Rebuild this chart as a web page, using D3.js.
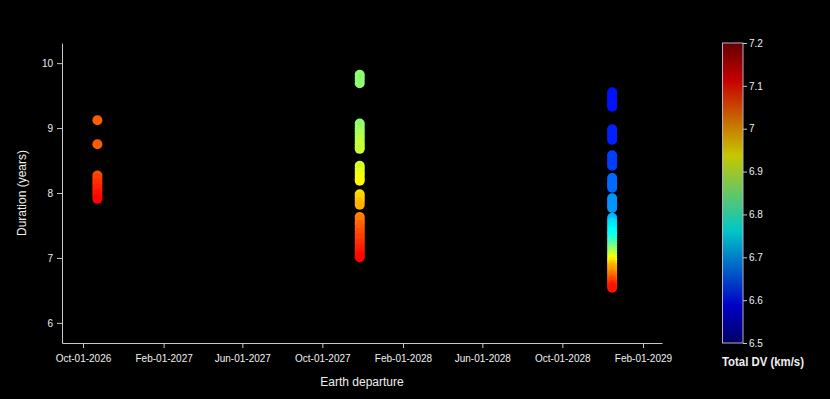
<!DOCTYPE html>
<html>
<head>
<meta charset="utf-8">
<script src="https://cdn.jsdelivr.net/npm/d3@7"></script>
<style>
  html, body { margin: 0; padding: 0; background: #000; }
  svg { display: block; font-family: "Liberation Sans", Arial, sans-serif; }
</style>
</head>
<body>
<svg id="chart" width="830" height="399"></svg>
<script>
// ---- Data ----
const departures = ["2026-10-23", "2027-11-27", "2028-12-16"];

const durations2026 = [9.12, 8.75, 8.27, 8.23, 8.19, 8.15, 8.11, 8.07, 8.03, 7.99, 7.95, 7.91];
const dv2026        = [7.05, 7.05, 7.06, 7.07, 7.07, 7.08, 7.08, 7.09, 7.09, 7.10, 7.10, 7.11];

const durations2027 = [9.82, 9.78, 9.74, 9.69,
  9.07, 9.03, 8.99, 8.95, 8.91, 8.87, 8.83, 8.79, 8.75, 8.71, 8.68,
  8.42, 8.38, 8.34, 8.30, 8.26, 8.22, 8.19,
  7.98, 7.94, 7.90, 7.86, 7.82,
  7.63, 7.59, 7.55, 7.51, 7.47, 7.43, 7.39, 7.35, 7.31, 7.27, 7.23, 7.19, 7.15, 7.11, 7.07, 7.03, 7.01];
const dv2027 = [6.86, 6.86, 6.86, 6.86,
  6.86, 6.86, 6.87, 6.87, 6.88, 6.88, 6.89, 6.89, 6.90, 6.90, 6.90,
  6.91, 6.91, 6.92, 6.92, 6.93, 6.93, 6.94,
  6.96, 6.97, 6.97, 6.98, 6.99,
  7.02, 7.03, 7.03, 7.04, 7.05, 7.05, 7.06, 7.06, 7.07, 7.07, 7.08, 7.08, 7.09, 7.09, 7.10, 7.10, 7.11];

const durations2028 = [9.55, 9.51, 9.47, 9.43, 9.39, 9.35, 9.33,
  8.98, 8.94, 8.90, 8.86, 8.82,
  8.58, 8.54, 8.50, 8.46, 8.42,
  8.23, 8.19, 8.15, 8.11, 8.08,
  7.92, 7.88, 7.84, 7.80, 7.77,
  7.62, 7.58, 7.54, 7.50, 7.46, 7.42, 7.38, 7.34, 7.30, 7.26, 7.22, 7.18, 7.14, 7.10,
  7.06, 7.02, 6.98, 6.94, 6.90, 6.86, 6.82, 6.78, 6.74, 6.70, 6.66, 6.62, 6.58, 6.54];
const dv2028 = [6.60, 6.60, 6.60, 6.60, 6.60, 6.60, 6.60,
  6.61, 6.61, 6.61, 6.61, 6.61,
  6.63, 6.63, 6.63, 6.63, 6.63,
  6.66, 6.66, 6.66, 6.66, 6.66,
  6.69, 6.69, 6.69, 6.69, 6.69,
  6.71, 6.72, 6.74, 6.745, 6.75, 6.76, 6.765, 6.77, 6.78, 6.80, 6.81, 6.83, 6.85, 6.87,
  6.89, 6.91, 6.93, 6.95, 6.97, 6.99, 7.00, 7.01, 7.03, 7.04, 7.06, 7.07, 7.09, 7.10];

const xTickDates = ["2026-10-01", "2027-02-01", "2027-06-01", "2027-10-01",
                    "2028-02-01", "2028-06-01", "2028-10-01", "2029-02-01"];
const yTicks = [6, 7, 8, 9, 10];
const cbTicks = [6.5, 6.6, 6.7, 6.8, 6.9, 7, 7.1, 7.2];
const dvRange = [6.5, 7.2];
const xRange = ["2026-08-30", "2029-03-02"];
const yRange = [5.69, 10.31];

// jet colour stops
const jetStops = [
  [0, "rgb(0,0,128)"], [0.125, "rgb(0,0,255)"], [0.375, "rgb(0,255,255)"],
  [0.625, "rgb(255,255,0)"], [0.875, "rgb(255,0,0)"], [1, "rgb(128,0,0)"]
];

// ---- Build ----
const parse = d3.utcParse("%Y-%m-%d");
const fmt = d3.utcFormat("%b-%d-%Y");
const svg = d3.select("#chart");

const plot = { left: 62, right: 662, top: 43, bottom: 343 };

const x = d3.scaleUtc().domain(xRange.map(parse)).range([plot.left, plot.right]);
const y = d3.scaleLinear().domain(yRange).range([plot.bottom, plot.top]);

const jet = d3.scaleLinear()
  .domain(jetStops.map(s => dvRange[0] + s[0] * (dvRange[1] - dvRange[0])))
  .range(jetStops.map(s => s[1]))
  .interpolate(d3.interpolateRgb)
  .clamp(true);

const series = [
  { date: departures[0], dur: durations2026, dv: dv2026 },
  { date: departures[1], dur: durations2027, dv: dv2027 },
  { date: departures[2], dur: durations2028, dv: dv2028 }
];
const points = [];
series.forEach(s => s.dur.forEach((d, i) => points.push({ date: parse(s.date), dur: d, dv: s.dv[i] })));

const axisColor = "#c8c8c8";
const textColor = "#f0f0f0";

// axes
const xAxis = svg.append("g")
  .attr("transform", `translate(0,${plot.bottom})`)
  .call(d3.axisBottom(x).tickValues(xTickDates.map(parse)).tickFormat(fmt).tickSize(5).tickSizeOuter(0));
const yAxis = svg.append("g")
  .attr("transform", `translate(${plot.left},0)`)
  .call(d3.axisLeft(y).tickValues(yTicks).tickFormat(d3.format("d")).tickSize(5).tickSizeOuter(0));

[xAxis, yAxis].forEach(a => {
  a.select(".domain").attr("stroke", axisColor).attr("stroke-width", 1);
  a.selectAll(".tick line").attr("stroke", axisColor);
  a.selectAll(".tick text").attr("fill", textColor).attr("font-size", 10)
    .attr("font-family", "'Liberation Sans', Arial, sans-serif");
});
xAxis.selectAll(".tick text").attr("dy", "1.05em");
yAxis.selectAll(".tick text").attr("x", -9);

// points
svg.append("g").selectAll("circle").data(points).join("circle")
  .attr("cx", d => x(d.date))
  .attr("cy", d => y(d.dur))
  .attr("r", 5)
  .attr("fill", d => jet(d.dv));

// axis titles
svg.append("text")
  .attr("x", (plot.left + plot.right) / 2).attr("y", 386)
  .attr("text-anchor", "middle").attr("fill", textColor).attr("font-size", 12)
  .text("Earth departure");
svg.append("text")
  .attr("transform", `translate(26,${(plot.top + plot.bottom) / 2}) rotate(-90)`)
  .attr("text-anchor", "middle").attr("fill", textColor).attr("font-size", 12)
  .text("Duration (years)");

// colorbar
const cb = { x: 722.5, w: 20.5, top: 43, bottom: 343 };
const defs = svg.append("defs");
const grad = defs.append("linearGradient").attr("id", "jetgrad")
  .attr("x1", 0).attr("y1", 1).attr("x2", 0).attr("y2", 0);
grad.selectAll("stop").data(jetStops).join("stop")
  .attr("offset", d => d[0]).attr("stop-color", d => d[1]);

const cbScale = d3.scaleLinear().domain(dvRange).range([cb.bottom, cb.top]);
svg.append("rect")
  .attr("x", cb.x).attr("y", cb.top).attr("width", cb.w).attr("height", cb.bottom - cb.top)
  .attr("fill", "url(#jetgrad)").attr("fill-opacity", 0.78)
  .attr("stroke", "#b9aec8").attr("stroke-width", 1);

const cbAxis = svg.append("g")
  .attr("transform", `translate(${cb.x + cb.w},0)`)
  .call(d3.axisRight(cbScale).tickValues(cbTicks).tickFormat(d3.format("")).tickSize(4).tickSizeOuter(0));
cbAxis.select(".domain").remove();
cbAxis.selectAll(".tick line").attr("stroke", axisColor);
cbAxis.selectAll(".tick text").attr("fill", textColor).attr("font-size", 10).attr("x", 6)
  .attr("font-family", "'Liberation Sans', Arial, sans-serif");

svg.append("text")
  .attr("x", 763).attr("y", 366)
  .attr("text-anchor", "middle").attr("fill", textColor).attr("font-size", 12)
  .attr("font-weight", "bold").attr("textLength", 82).attr("lengthAdjust", "spacingAndGlyphs")
  .text("Total DV (km/s)");
</script>
</body>
</html>
